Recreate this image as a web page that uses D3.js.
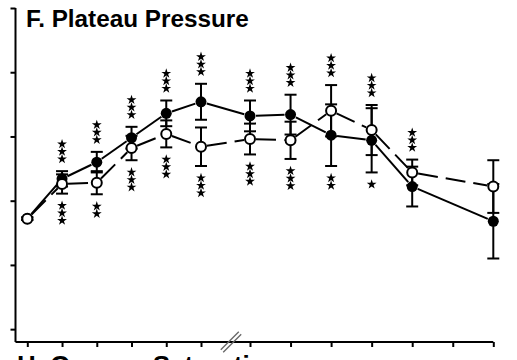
<!DOCTYPE html>
<meta charset="utf-8">
<style>
    body { margin: 0; background: #fff; }
    .title { font-family: "Liberation Sans", Arial, sans-serif; font-weight: bold; }
</style>
<svg width="517" height="360"></svg>
<script src="https://d3js.org/d3.v7.min.js"></script>
<script>

    // time points (13 ticks, axis broken between index 5 and 6)
    var timePoints = [0, 1, 2, 3, 4, 5, 6, 7, 8, 9, 10, 11, 12];
    var yTicks = [10, 15, 20, 25, 30, 35];

    // filled circles, solid line
    var filledMean = [18.6, 21.7, 23.0, 24.9, 26.8, 27.7, 26.6, 26.7, 25.1, 24.7, 21.1, null, 18.4];
    var filledErr  = [0.1, 0.6, 0.8, 0.85, 1.0, 1.4, 1.2, 1.55, 2.4, 2.5, 1.55, null, 2.9];

    // open circles, dashed line
    var openMean = [18.6, 21.3, 21.4, 24.1, 25.2, 24.2, 24.8, 24.7, 27.0, 25.5, 22.2, null, 21.1];
    var openErr  = [0.1, 0.75, 0.9, 0.95, 1.05, 1.5, 1.2, 1.45, 2.0, 1.95, 1.0, null, 2.05];

    // number of significance stars above / below each time point
    var starsAbove = [0, 3, 3, 3, 3, 3, 3, 3, 3, 3, 3, 0, 0];
    var starsBelow = [0, 3, 2, 3, 3, 3, 3, 3, 2, 1, 0, 0, 0];

    var svg = d3.select("svg");

    var x = d3.scaleLinear()
        .domain([0, 5, 6, 12])
        .range([27.3, 201, 250, 493.3]);

    var y = d3.scaleLinear()
        .domain([9, 35])
        .range([342, 8]);

    // axes
    var yAxis = d3.axisLeft(y).tickValues(yTicks).tickSize(5).tickFormat("");
    var gy = svg.append("g")
        .attr("transform", "translate(15.5,0)")
        .call(yAxis);
    gy.select(".domain").attr("d", "M0," + y(35) + "V" + y(9));

    var xAxis = d3.axisBottom(x).tickValues(timePoints).tickSize(5).tickFormat("");
    var gx = svg.append("g")
        .attr("transform", "translate(0,342)")
        .call(xAxis);
    gx.select(".domain").attr("d", "M15.5,0H" + x(12));

    svg.selectAll(".domain").attr("stroke", "#000").attr("stroke-width", 2);
    svg.selectAll(".tick line").attr("stroke", "#000").attr("stroke-width", 2);

    // axis break mark
    [-1.2, 1.2].forEach(function(o) {
        svg.append("line")
            .attr("x1", 222 + o).attr("y1", 351 + o)
            .attr("x2", 240 + o).attr("y2", 333 + o)
            .attr("stroke", "#666")
            .attr("stroke-width", 1.3);
    });

    function points(mean, err) {
        var pts = [];
        timePoints.forEach(function(t, i) {
            if (mean[i] != null) pts.push({t: t, m: mean[i], e: err[i]});
        });
        return pts;
    }

    var filled = points(filledMean, filledErr);
    var open = points(openMean, openErr);

    function drawErrors(pts) {
        var g = svg.append("g").attr("stroke", "#000").attr("stroke-width", 2);
        pts.forEach(function(d) {
            var cx = x(d.t), y0 = y(d.m - d.e), y1 = y(d.m + d.e);
            g.append("line").attr("x1", cx).attr("x2", cx).attr("y1", y0).attr("y2", y1);
            g.append("line").attr("x1", cx - 6).attr("x2", cx + 6).attr("y1", y0).attr("y2", y0);
            g.append("line").attr("x1", cx - 6).attr("x2", cx + 6).attr("y1", y1).attr("y2", y1);
        });
    }

    // connecting segments, trimmed at the circle edge
    function drawLine(pts, dash) {
        var g = svg.append("g").attr("stroke", "#000").attr("stroke-width", 2).attr("fill", "none");
        for (var i = 1; i < pts.length; i++) {
            var ax = x(pts[i - 1].t), ay = y(pts[i - 1].m);
            var bx = x(pts[i].t), by = y(pts[i].m);
            var len = Math.sqrt((bx - ax) * (bx - ax) + (by - ay) * (by - ay));
            var ux = (bx - ax) / len, uy = (by - ay) / len, r = 6;
            g.append("line")
                .attr("x1", ax + ux * r).attr("y1", ay + uy * r)
                .attr("x2", bx - ux * r).attr("y2", by - uy * r)
                .attr("stroke-dasharray", dash);
        }
    }

    drawErrors(filled);
    drawErrors(open);
    drawLine(filled, null);
    drawLine(open, "20,8");

    svg.append("g").selectAll("circle")
        .data(filled)
        .enter().append("circle")
        .attr("cx", function(d) { return x(d.t); })
        .attr("cy", function(d) { return y(d.m); })
        .attr("r", 5.5)
        .attr("fill", "#000");

    svg.append("g").selectAll("circle")
        .data(open)
        .enter().append("circle")
        .attr("cx", function(d) { return x(d.t); })
        .attr("cy", function(d) { return y(d.m); })
        .attr("r", 5)
        .attr("fill", "#fff")
        .attr("stroke", "#000")
        .attr("stroke-width", 2);

    // significance stars
    var star = d3.symbol().type(d3.symbolStar).size(30);
    var gs = svg.append("g").attr("fill", "#000");
    timePoints.forEach(function(t, i) {
        var tops = [], bots = [];
        if (filledMean[i] != null) { tops.push(y(filledMean[i] + filledErr[i])); bots.push(y(filledMean[i] - filledErr[i])); }
        if (openMean[i] != null) { tops.push(y(openMean[i] + openErr[i])); bots.push(y(openMean[i] - openErr[i])); }
        var top = d3.min(tops) - 8, bot = d3.max(bots) + 8;
        for (var k = 0; k < starsAbove[i]; k++) {
            gs.append("path").attr("d", star)
                .attr("transform", "translate(" + x(t) + "," + (top - 4 - 7.5 * k) + ")");
        }
        for (var k = 0; k < starsBelow[i]; k++) {
            gs.append("path").attr("d", star)
                .attr("transform", "translate(" + x(t) + "," + (bot + 4 + 7.5 * k) + ")");
        }
    });

    svg.append("text")
        .attr("class", "title")
        .attr("x", 26)
        .attr("y", 26.5)
        .attr("font-size", 24.3)
        .text("F. Plateau Pressure");

    // next panel title, cut off by the bottom edge (as in the source figure)
    svg.append("text")
        .attr("class", "title")
        .attr("x", 17)
        .attr("y", 373.5)
        .attr("font-size", 26)
        .text("H. Oxygen Saturation");

</script>
